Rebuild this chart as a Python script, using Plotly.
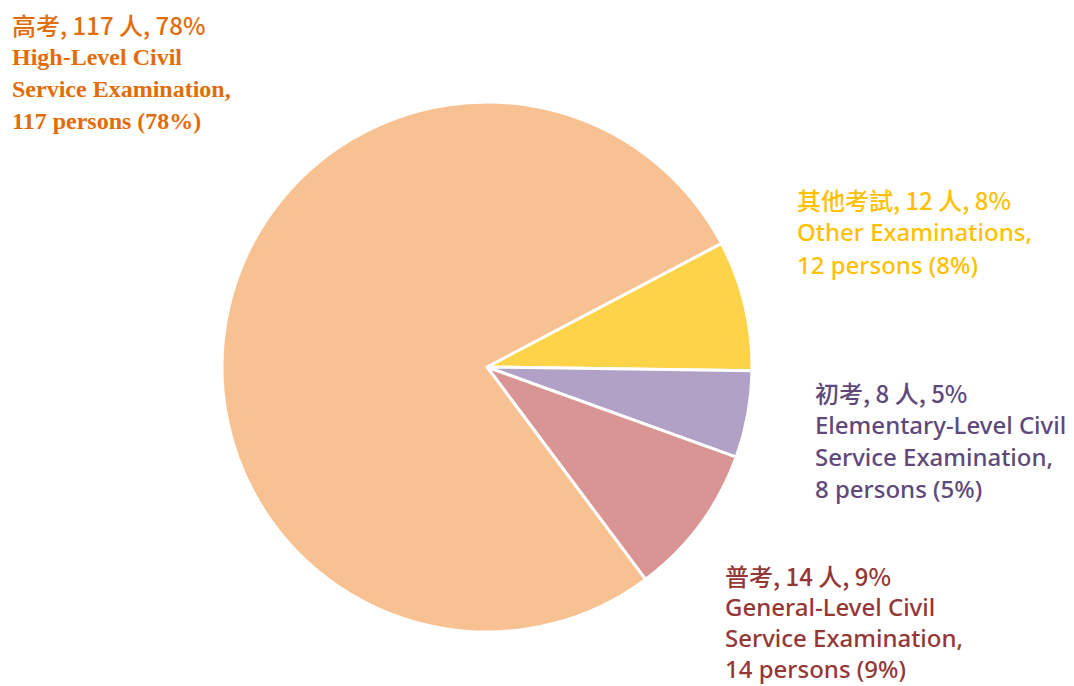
import plotly.graph_objects as go

# page has an 8px body margin; figure sized to fill the rest of the window
OFF = 8
W, H = 1074 - OFF, 686 - OFF

# Data
categories_zh = ["其他考試", "初考", "普考", "高考"]
categories_en = ["Other Examinations", "Elementary-Level Civil Service Examination",
                 "General-Level Civil Service Examination", "High-Level Civil Service Examination"]
persons = [12, 8, 14, 117]
percents = [8, 5, 9, 78]
slice_colors = ["#FCD349", "#B1A1C7", "#D89593", "#F8C192"]
text_colors = ["#FFC000", "#5F497A", "#953735", "#E36C0A"]

# label lines per category
label_lines = [
    ["其他考試, 12 人, 8%", "Other Examinations,", "12 persons (8%)"],
    ["初考, 8 人, 5%", "Elementary-Level Civil", "Service Examination,", "8 persons (5%)"],
    ["普考, 14 人, 9%", "General-Level Civil", "Service Examination,", "14 persons (9%)"],
    ["高考, 117 人, 78%", "High-Level Civil", "Service Examination,", "117 persons (78%)"],
]
# label anchor positions in window pixels (left x, first line center y, line gap)
label_pos = [(796, 199, 32.5), (814, 392, 32.3), (724, 575, 31.1), (11, 25, 32.0)]


def px(x):
    return (x - OFF) / W


def py(y):
    return 1 - (y - OFF) / H


fig = go.Figure()
fig.add_trace(go.Pie(
    labels=categories_en,
    values=persons,
    sort=False,
    direction="clockwise",
    rotation=62.2,
    marker=dict(colors=slice_colors, line=dict(color="white", width=3)),
    textinfo="none",
    hoverinfo="label+value+percent",
    domain=dict(x=[px(222), px(752)], y=[py(632), py(102)]),
    showlegend=False,
))

annotations = []
for i, lines in enumerate(label_lines):
    x0, y0, gap = label_pos[i]
    for j, line in enumerate(lines):
        if j == 0:
            fam = "Noto Sans CJK TC, Noto Sans, sans-serif"
            weight = 500
        elif i == 3:
            fam = "Liberation Serif, DejaVu Serif, serif"
            weight = "bold"
        else:
            fam = "Noto Sans, Noto Sans CJK TC, sans-serif"
            weight = 500
        annotations.append(dict(
            x=px(x0), y=py(y0 + j * gap),
            xref="paper", yref="paper",
            xanchor="left", yanchor="middle",
            text=line, showarrow=False, borderpad=0,
            font=dict(family=fam, size=24, color=text_colors[i], weight=weight),
        ))

fig.update_layout(
    width=W, height=H,
    margin=dict(l=0, r=0, t=0, b=0),
    paper_bgcolor="white", plot_bgcolor="white",
    annotations=annotations,
)

fig.write_html("out.html")
